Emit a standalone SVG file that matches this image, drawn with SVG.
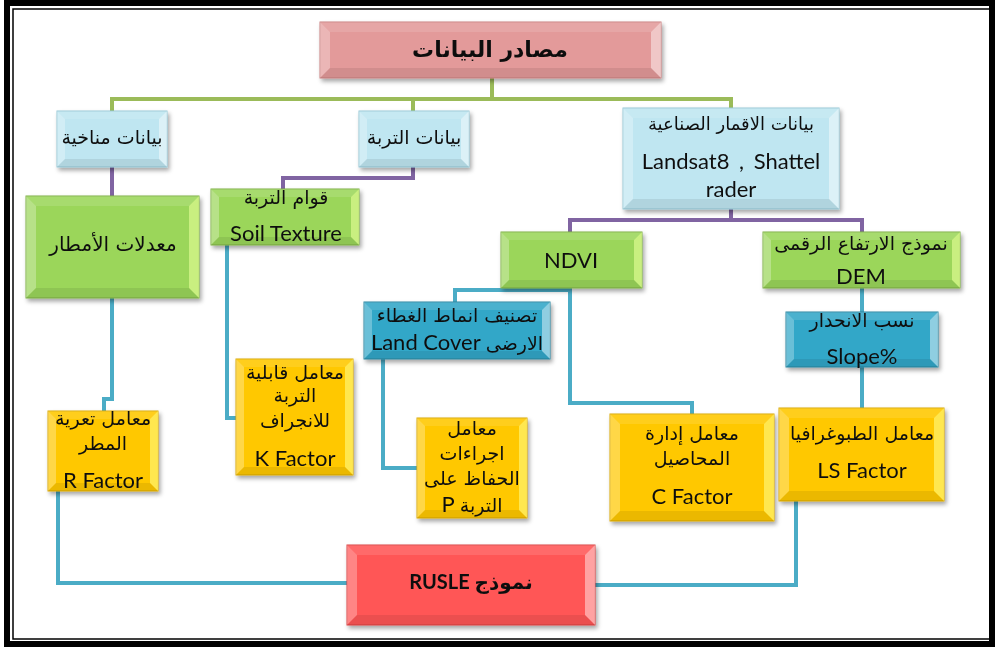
<svg xmlns="http://www.w3.org/2000/svg" width="995" height="648" viewBox="0 0 995 648">
<defs>
<filter id="sh" x="-10%" y="-10%" width="125%" height="130%">
<feDropShadow dx="2" dy="3" stdDeviation="2" flood-color="#000" flood-opacity="0.35"/>
</filter>
</defs>
<style>
.ar{font-family:"DejaVu Sans","Noto Sans",sans-serif;fill:#111;text-anchor:middle;font-size:19px}
.la{font-family:"Lato","Open Sans",sans-serif;fill:#111;text-anchor:middle;font-size:22px}
.g{fill:none;stroke:#9BBB59;stroke-width:4}
.p{fill:none;stroke:#8064A2;stroke-width:4}
.b{fill:none;stroke:#4BACC6;stroke-width:4}
.bl{fill:#fff;fill-opacity:0.28}
.br{fill:#fff;fill-opacity:0.45}
.bt{fill:#fff;fill-opacity:0.12}
.bb{fill:#000;fill-opacity:0.08}
.pink{fill:#E39A9A;stroke:#C98080;stroke-width:1}
.lb{fill:#BFE6F1;stroke:#95C8D6;stroke-width:1}
.gr{fill:#9BD65A;stroke:#7DAF45;stroke-width:1}
.gr2{fill:#E8FF9A;fill-opacity:0.6}
.db{fill:#33A7C8;stroke:#2A86A0;stroke-width:1}
.ye{fill:#FFC800;stroke:#D9A800;stroke-width:1}
.ye2{fill:#FFF26A;fill-opacity:0.75}
.rd{fill:#FF5656;stroke:#D94040;stroke-width:1}
</style>
<rect x="0" y="0" width="995" height="648" fill="#fff"/>
<rect x="7" y="3" width="985" height="641" fill="none" stroke="#000" stroke-width="6"/>
<rect x="13" y="9" width="977" height="630" fill="none" stroke="#000" stroke-width="1.5"/>

<g id="connectors">
<path class="g" d="M492,78 V99"/>
<path class="g" d="M112,111 V99 H731 V108"/>
<path class="g" d="M413,99 V111"/>
<path class="p" d="M112,167 V196"/>
<path class="p" d="M413,167 V178 H283 V189"/>
<path class="p" d="M731,209 V220"/>
<path class="p" d="M570,232 V220 H862 V232"/>
<path class="b" d="M570,288 V290 H455 V302"/>
<path class="b" d="M570,290 V403 H692 V414"/>
<path class="b" d="M862,288 V312"/>
<path class="b" d="M862,367 V408"/>
<path class="b" d="M383,359 V468 H417"/>
<path class="b" d="M227,245 V418 H236"/>
<path class="b" d="M112,298 V399 H104 V411"/>
<path class="b" d="M58,491 V583 H347"/>
<path class="b" d="M796,501 V585 H595"/>
</g>

<g id="n-title" filter="url(#sh)">
<rect class="pink" x="320" y="22" width="341" height="56"/>
<polygon class="bt" points="320,22 661,22 651,32 330,32"/>
<polygon class="bl" points="320,22 330,32 330,68 320,78"/>
<polygon class="br" points="661,22 651,32 651,68 661,78"/>
<polygon class="bb" points="320,78 330,68 651,68 661,78"/>
<text class="ar" x="490" y="57" style="font-size:22px;font-weight:bold">مصادر البيانات</text>
</g>

<g id="n-climate" filter="url(#sh)">
<rect class="lb" x="57" y="111" width="110" height="56"/>
<polygon class="bt" points="57,111 167,111 159,119 65,119"/>
<polygon class="bl" points="57,111 65,119 65,159 57,167"/>
<polygon class="br" points="167,111 159,119 159,159 167,167"/>
<polygon class="bb" points="57,167 65,159 159,159 167,167"/>
<text class="ar" x="112" y="144">بيانات مناخية</text>
</g>

<g id="n-soil" filter="url(#sh)">
<rect class="lb" x="359" y="111" width="110" height="56"/>
<polygon class="bt" points="359,111 469,111 461,119 367,119"/>
<polygon class="bl" points="359,111 367,119 367,159 359,167"/>
<polygon class="br" points="469,111 461,119 461,159 469,167"/>
<polygon class="bb" points="359,167 367,159 461,159 469,167"/>
<text class="ar" x="414" y="144">بيانات التربة</text>
</g>

<g id="n-sat" filter="url(#sh)">
<rect class="lb" x="623" y="108" width="216" height="101"/>
<polygon class="bt" points="623,108 839,108 829,118 633,118"/>
<polygon class="bl" points="623,108 633,118 633,199 623,209"/>
<polygon class="br" points="839,108 829,118 829,199 839,209"/>
<polygon class="bb" points="623,209 633,199 829,199 839,209"/>
<text class="ar" x="731" y="130" style="font-size:18px">بيانات الاقمار الصناعية</text>
<text class="la" x="731" y="169" word-spacing="4">Landsat8 , Shattel</text>
<text class="la" x="731" y="197">rader</text>
</g>

<g id="n-rain" filter="url(#sh)">
<rect class="gr" x="26" y="196" width="173" height="102"/>
<polygon class="bt" points="26,196 199,196 189,206 36,206"/>
<polygon class="bl" points="26,196 36,206 36,288 26,298"/>
<polygon class="gr2" points="199,196 189,206 189,288 199,298"/>
<polygon class="bb" points="26,298 36,288 189,288 199,298"/>
<text class="ar" x="113" y="251" style="font-size:20px">معدلات الأمطار</text>
</g>

<g id="n-texture" filter="url(#sh)">
<rect class="gr" x="211" y="189" width="148" height="56"/>
<polygon class="bt" points="211,189 359,189 351,197 219,197"/>
<polygon class="bl" points="211,189 219,197 219,237 211,245"/>
<polygon class="gr2" points="359,189 351,197 351,237 359,245"/>
<polygon class="bb" points="211,245 219,237 351,237 359,245"/>
<text class="ar" x="286" y="204">قوام التربة</text>
<text class="la" x="286" y="241">Soil Texture</text>
</g>

<g id="n-ndvi" filter="url(#sh)">
<rect class="gr" x="501" y="232" width="141" height="56"/>
<polygon class="bt" points="501,232 642,232 634,240 509,240"/>
<polygon class="bl" points="501,232 509,240 509,280 501,288"/>
<polygon class="gr2" points="642,232 634,240 634,280 642,288"/>
<polygon class="bb" points="501,288 509,280 634,280 642,288"/>
<text class="la" x="571" y="268">NDVI</text>
</g>

<g id="n-dem" filter="url(#sh)">
<rect class="gr" x="763" y="232" width="197" height="56"/>
<polygon class="bt" points="763,232 960,232 952,240 771,240"/>
<polygon class="bl" points="763,232 771,240 771,280 763,288"/>
<polygon class="gr2" points="960,232 952,240 952,280 960,288"/>
<polygon class="bb" points="763,288 771,280 952,280 960,288"/>
<text class="ar" x="861" y="250">نموذج الارتفاع الرقمى</text>
<text class="la" x="861" y="284">DEM</text>
</g>

<g id="n-landcover" filter="url(#sh)">
<rect class="db" x="364" y="302" width="186" height="57"/>
<polygon class="bt" points="364,302 550,302 542,310 372,310"/>
<polygon class="bl" points="364,302 372,310 372,351 364,359"/>
<polygon class="br" points="550,302 542,310 542,351 550,359"/>
<polygon class="bb" points="364,359 372,351 542,351 550,359"/>
<text class="ar" x="457" y="322">تصنيف انماط الغطاء</text>
<text class="la" x="457" y="350">Land Cover <tspan style="font-family:'DejaVu Sans',sans-serif;font-size:19px">الارضى</tspan></text>
</g>

<g id="n-slope" filter="url(#sh)">
<rect class="db" x="786" y="312" width="152" height="55"/>
<polygon class="bt" points="786,312 938,312 930,320 794,320"/>
<polygon class="bl" points="786,312 794,320 794,359 786,367"/>
<polygon class="br" points="938,312 930,320 930,359 938,367"/>
<polygon class="bb" points="786,367 794,359 930,359 938,367"/>
<text class="ar" x="862" y="327">نسب الانحدار</text>
<text class="la" x="862" y="364">Slope%</text>
</g>

<g id="n-k" filter="url(#sh)">
<rect class="ye" x="236" y="359" width="117" height="116"/>
<polygon class="bt" points="236,359 353,359 345,367 244,367"/>
<polygon class="bl" points="236,359 244,367 244,467 236,475"/>
<polygon class="ye2" points="353,359 345,367 345,467 353,475"/>
<polygon class="bb" points="236,475 244,467 345,467 353,475"/>
<text class="ar" x="295" y="379">معامل قابلية</text>
<text class="ar" x="295" y="402">التربة</text>
<text class="ar" x="295" y="427">للانجراف</text>
<text class="la" x="295" y="466">K Factor</text>
</g>

<g id="n-r" filter="url(#sh)">
<rect class="ye" x="48" y="411" width="110" height="80"/>
<polygon class="bt" points="48,411 158,411 150,419 56,419"/>
<polygon class="bl" points="48,411 56,419 56,483 48,491"/>
<polygon class="ye2" points="158,411 150,419 150,483 158,491"/>
<polygon class="bb" points="48,491 56,483 150,483 158,491"/>
<text class="ar" x="103" y="425">معامل تعرية</text>
<text class="ar" x="103" y="450">المطر</text>
<text class="la" x="103" y="488">R Factor</text>
</g>

<g id="n-p" filter="url(#sh)">
<rect class="ye" x="417" y="418" width="110" height="100"/>
<polygon class="bt" points="417,418 527,418 519,426 425,426"/>
<polygon class="bl" points="417,418 425,426 425,510 417,518"/>
<polygon class="ye2" points="527,418 519,426 519,510 527,518"/>
<polygon class="bb" points="417,518 425,510 519,510 527,518"/>
<text class="ar" x="472" y="435">معامل</text>
<text class="ar" x="472" y="460">اجراءات</text>
<text class="ar" x="472" y="485">الحفاظ على</text>
<text class="la" x="472" y="512">P  <tspan style="font-family:'DejaVu Sans',sans-serif;font-size:19px">التربة</tspan></text>
</g>

<g id="n-c" filter="url(#sh)">
<rect class="ye" x="610" y="414" width="164" height="107"/>
<polygon class="bt" points="610,414 774,414 764,424 620,424"/>
<polygon class="bl" points="610,414 620,424 620,511 610,521"/>
<polygon class="ye2" points="774,414 764,424 764,511 774,521"/>
<polygon class="bb" points="610,521 620,511 764,511 774,521"/>
<text class="ar" x="692" y="440">معامل إدارة</text>
<text class="ar" x="692" y="465">المحاصيل</text>
<text class="la" x="692" y="504">C Factor</text>
</g>

<g id="n-ls" filter="url(#sh)">
<rect class="ye" x="779" y="408" width="165" height="93"/>
<polygon class="bt" points="779,408 944,408 934,418 789,418"/>
<polygon class="bl" points="779,408 789,418 789,491 779,501"/>
<polygon class="ye2" points="944,408 934,418 934,491 944,501"/>
<polygon class="bb" points="779,501 789,491 934,491 944,501"/>
<text class="ar" x="862" y="440">معامل الطبوغرافيا</text>
<text class="la" x="862" y="478">LS Factor</text>
</g>

<g id="n-rusle" filter="url(#sh)">
<rect class="rd" x="347" y="545" width="248" height="80"/>
<polygon class="bt" points="347,545 595,545 585,555 357,555"/>
<polygon class="bl" points="347,545 357,555 357,615 347,625"/>
<polygon class="br" points="595,545 585,555 585,615 595,625"/>
<polygon class="bb" points="347,625 357,615 585,615 595,625"/>
<text class="la" x="471" y="589" style="font-size:20px;font-weight:bold">RUSLE <tspan style="font-family:'DejaVu Sans',sans-serif">نموذج</tspan></text>
</g>
</svg>
